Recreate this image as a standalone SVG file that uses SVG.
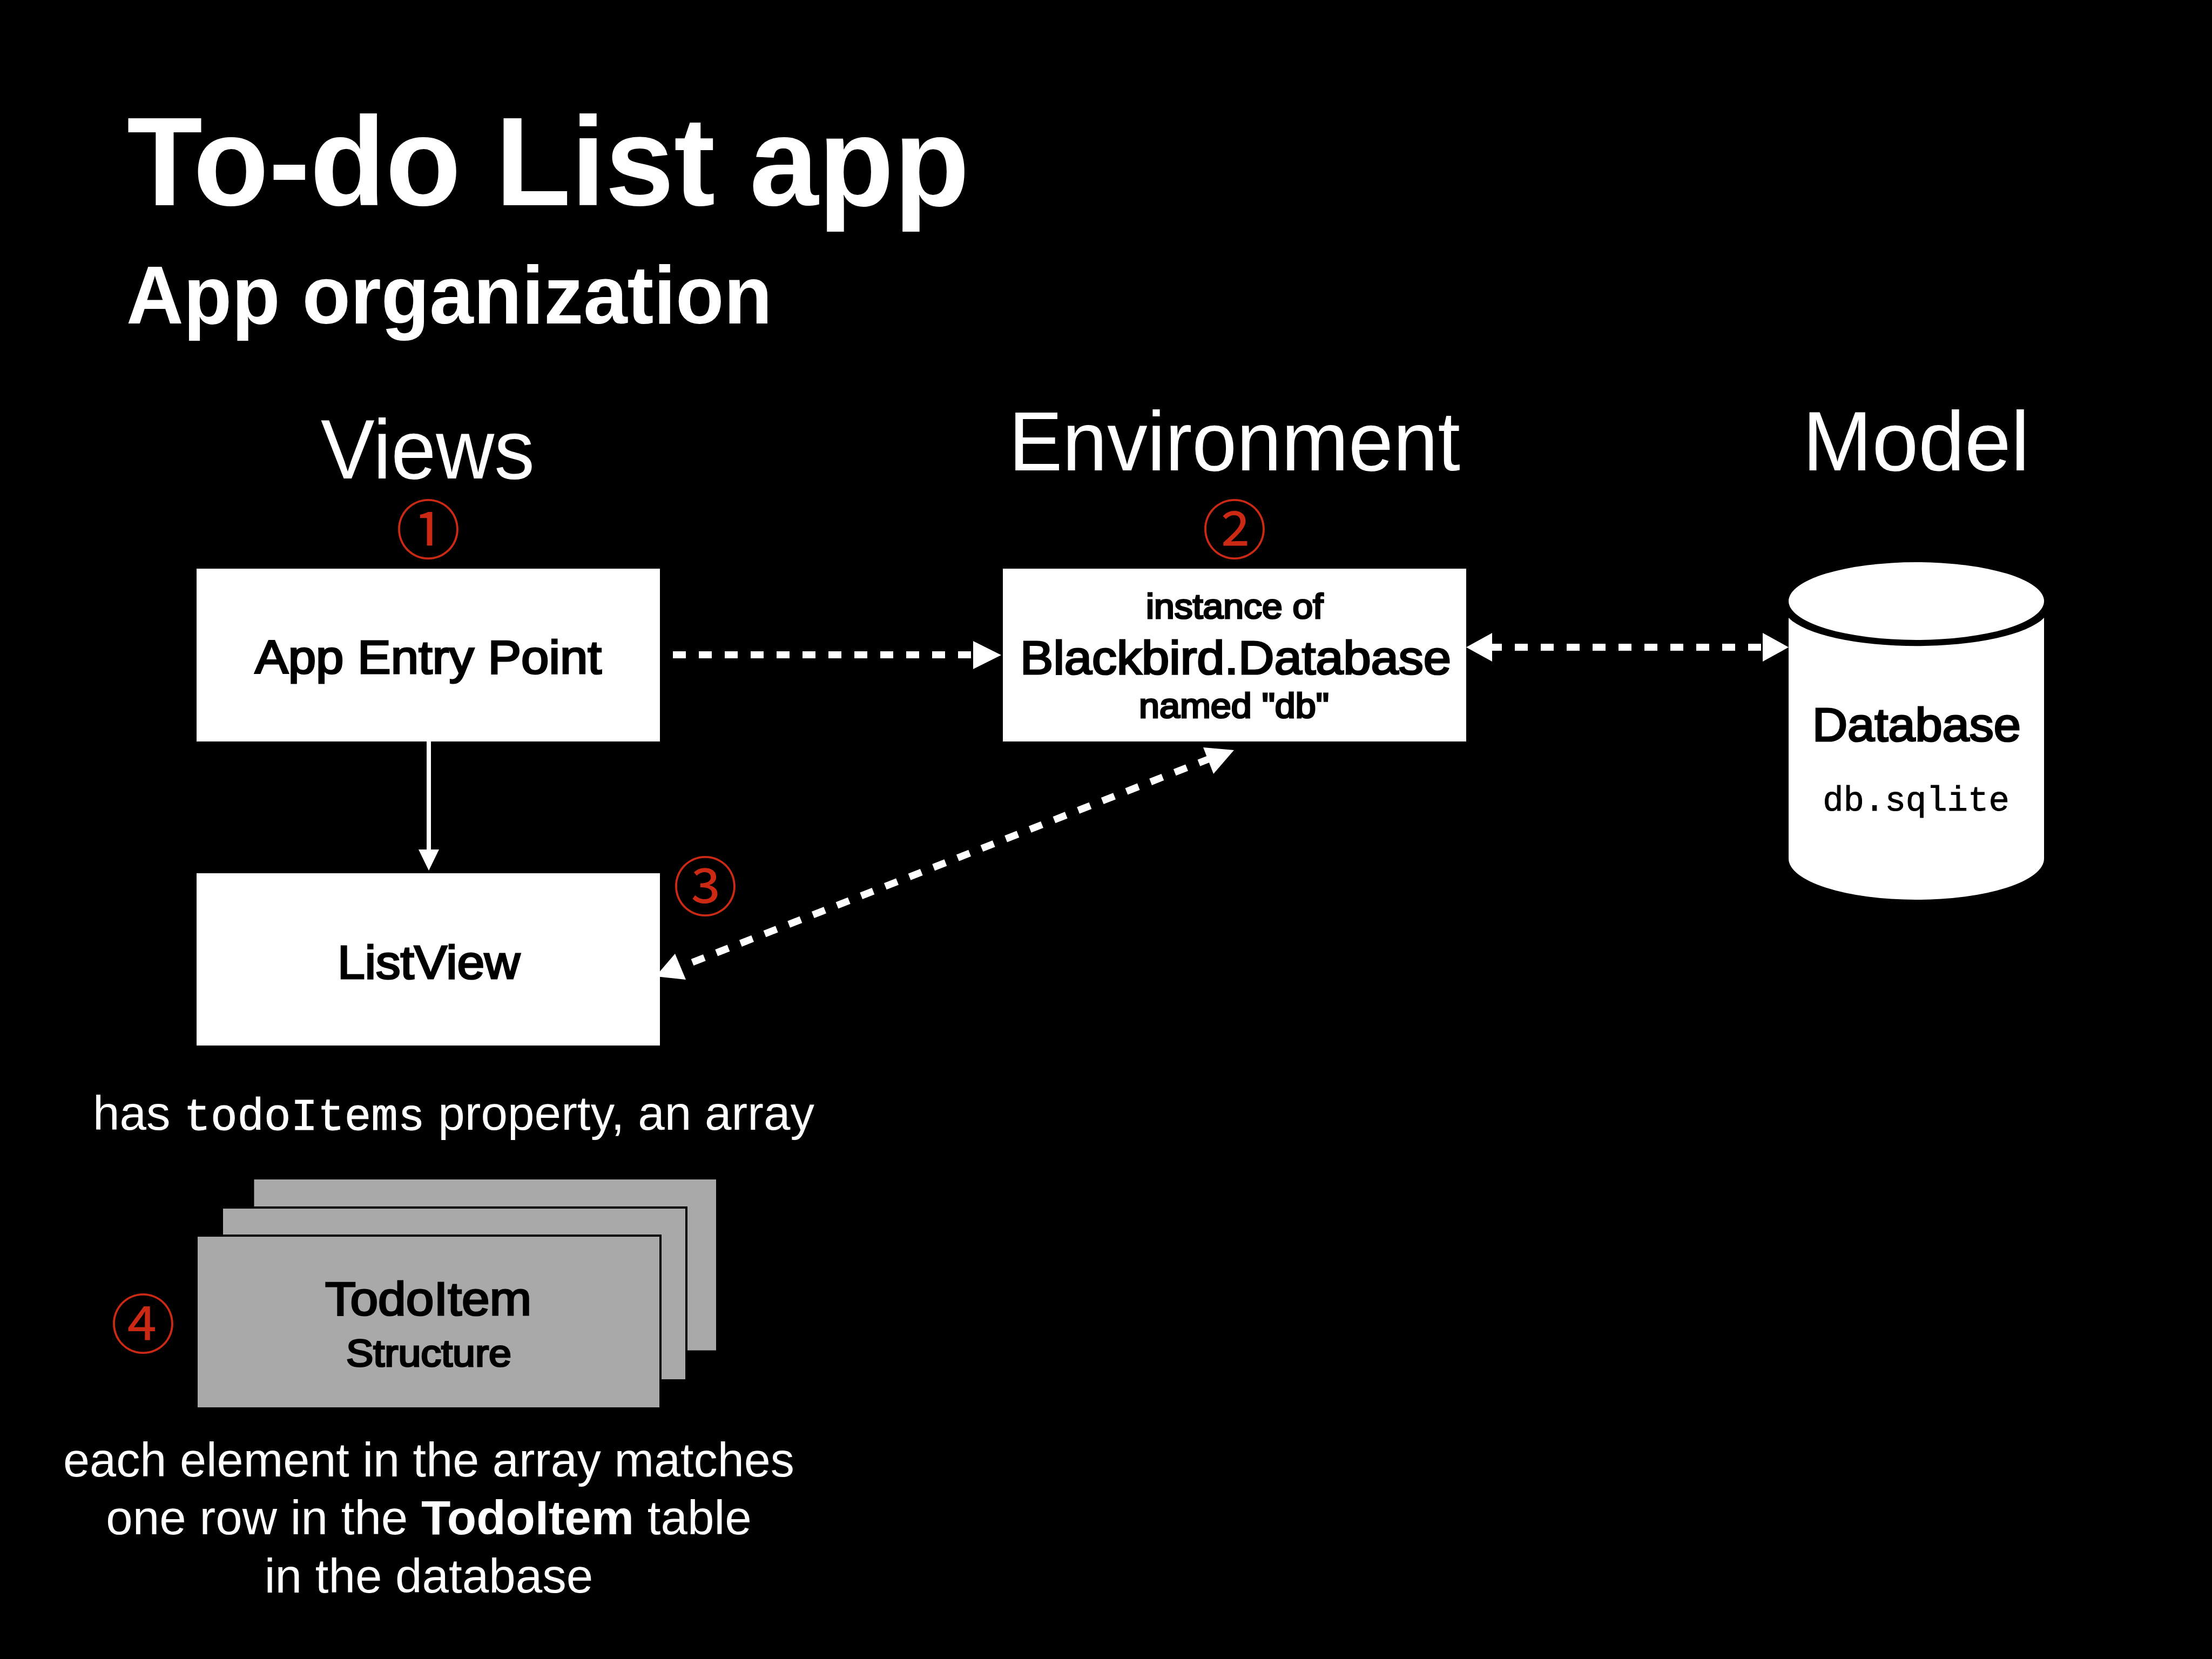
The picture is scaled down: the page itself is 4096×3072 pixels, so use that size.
<svg xmlns="http://www.w3.org/2000/svg" width="4096" height="3072" viewBox="0 0 4096 3072">
<style>
text{font-family:"Liberation Sans",Arimo,Helvetica,sans-serif;text-anchor:middle}
.w{fill:#fff}.k{fill:#000}.b{font-weight:700}
.med{stroke:#000;stroke-width:3.2}
.m{font-family:"Liberation Mono","Courier New",monospace}
.c{font-family:"Noto Sans CJK JP",sans-serif;fill:#cc2914;font-size:120px;font-weight:400}
.box{fill:#fff}.card{fill:#a9a9a9;stroke:#000;stroke-width:4}
.d{fill:none;stroke:#fff;stroke-width:13;stroke-dasharray:24 24}
</style>
<rect width="4096" height="3072" fill="#000"/>
<g id="titles">
<text class="w b" x="1015" y="380" font-size="234" textLength="1560" lengthAdjust="spacingAndGlyphs">To-do List app</text>
<text class="w b" x="832" y="599" font-size="152" textLength="1196" lengthAdjust="spacingAndGlyphs">App organization</text>
<text class="w" x="792" y="886" font-size="156" textLength="396" lengthAdjust="spacingAndGlyphs">Views</text>
<text class="w" x="2286" y="871" font-size="156" textLength="836" lengthAdjust="spacingAndGlyphs">Environment</text>
<text class="w" x="3548" y="871" font-size="156" textLength="420" lengthAdjust="spacingAndGlyphs">Model</text>
</g>
<g id="connectors">
<line x1="794" y1="1373" x2="794" y2="1580" stroke="#fff" stroke-width="8"/>
<polygon points="794,1612 775,1573 813,1573" fill="#fff"/>
<line class="d" x1="1246" y1="1212.5" x2="1810" y2="1212.5"/>
<polygon points="1854,1213 1802,1187 1802,1239" fill="#fff"/>
<line class="d" x1="2757" y1="1198.5" x2="3262" y2="1198.5"/>
<polygon points="2715,1198.5 2763,1172 2763,1225" fill="#fff"/>
<polygon points="3312,1198.5 3264,1172 3264,1225" fill="#fff"/>
<line class="d" x1="1282" y1="1782" x2="2242" y2="1404"/>
<polygon points="2285,1389 2228,1384 2247,1433" fill="#fff"/>
<polygon points="1214,1808 1250,1766 1270,1814" fill="#fff"/>
</g>
<g id="app-entry"><rect class="box" x="364" y="1053" width="858" height="320"/>
<text class="k med" x="793" y="1247" font-size="87" textLength="642" lengthAdjust="spacingAndGlyphs">App Entry Point</text></g>
<g id="listview"><rect class="box" x="364" y="1617" width="858" height="319"/>
<text class="k med" x="794" y="1812" font-size="87" textLength="338" lengthAdjust="spacingAndGlyphs">ListView</text></g>
<g id="database-instance"><rect class="box" x="1857" y="1053" width="858" height="320"/>
<text class="k med" x="2286" y="1145" font-size="64" textLength="328" lengthAdjust="spacingAndGlyphs">instance of</text>
<text class="k med" x="2288" y="1248" font-size="88" textLength="798" lengthAdjust="spacingAndGlyphs">Blackbird.Database</text>
<text class="k med" x="2285" y="1329" font-size="64" textLength="352" lengthAdjust="spacingAndGlyphs">named "db"</text></g>
<g id="database">
<path class="box" d="M3312 1144A246 72 0 0 0 3785 1144V1590A236.5 76 0 0 1 3312 1590Z"/>
<ellipse class="box" cx="3548.5" cy="1113" rx="236.5" ry="72"/>
<text class="k med" x="3549" y="1372" font-size="88" textLength="386" lengthAdjust="spacingAndGlyphs">Database</text>
<text class="k m" x="3548" y="1501" font-size="64" stroke="#000" stroke-width="1">db.sqlite</text>
</g>
<g id="circled-numbers">
<text class="c" x="793" y="1026">①</text>
<text class="c" x="2286" y="1026">②</text>
<text class="c" x="1306" y="1687">③</text>
<text class="c" x="265" y="2497">④</text>
</g>
<g id="todoitems-label"><text class="w" x="840" y="2092" font-size="89" textLength="1336">has <tspan class="m" font-size="82.5" stroke="#fff" stroke-width="1">todoItems</tspan> property, an array</text></g>
<g id="todoitem-stack">
<rect class="card" x="468.5" y="2182" width="859.5" height="320.5"/>
<rect class="card" x="411" y="2236" width="860" height="320"/>
<rect class="card" x="364" y="2288" width="859" height="320"/>
<text class="k med" x="793" y="2435" font-size="87" textLength="382" lengthAdjust="spacingAndGlyphs">TodoItem</text>
<text class="k med" x="794" y="2530" font-size="71" textLength="306" lengthAdjust="spacingAndGlyphs">Structure</text>
</g>
<g id="note">
<text class="w" x="794" y="2734" font-size="89" textLength="1354" lengthAdjust="spacingAndGlyphs">each element in the array matches</text>
<text class="w" x="794" y="2841" font-size="89">one row in the <tspan class="b">TodoItem</tspan> table</text>
<text class="w" x="794" y="2949" font-size="89">in the database</text>
</g>
</svg>
